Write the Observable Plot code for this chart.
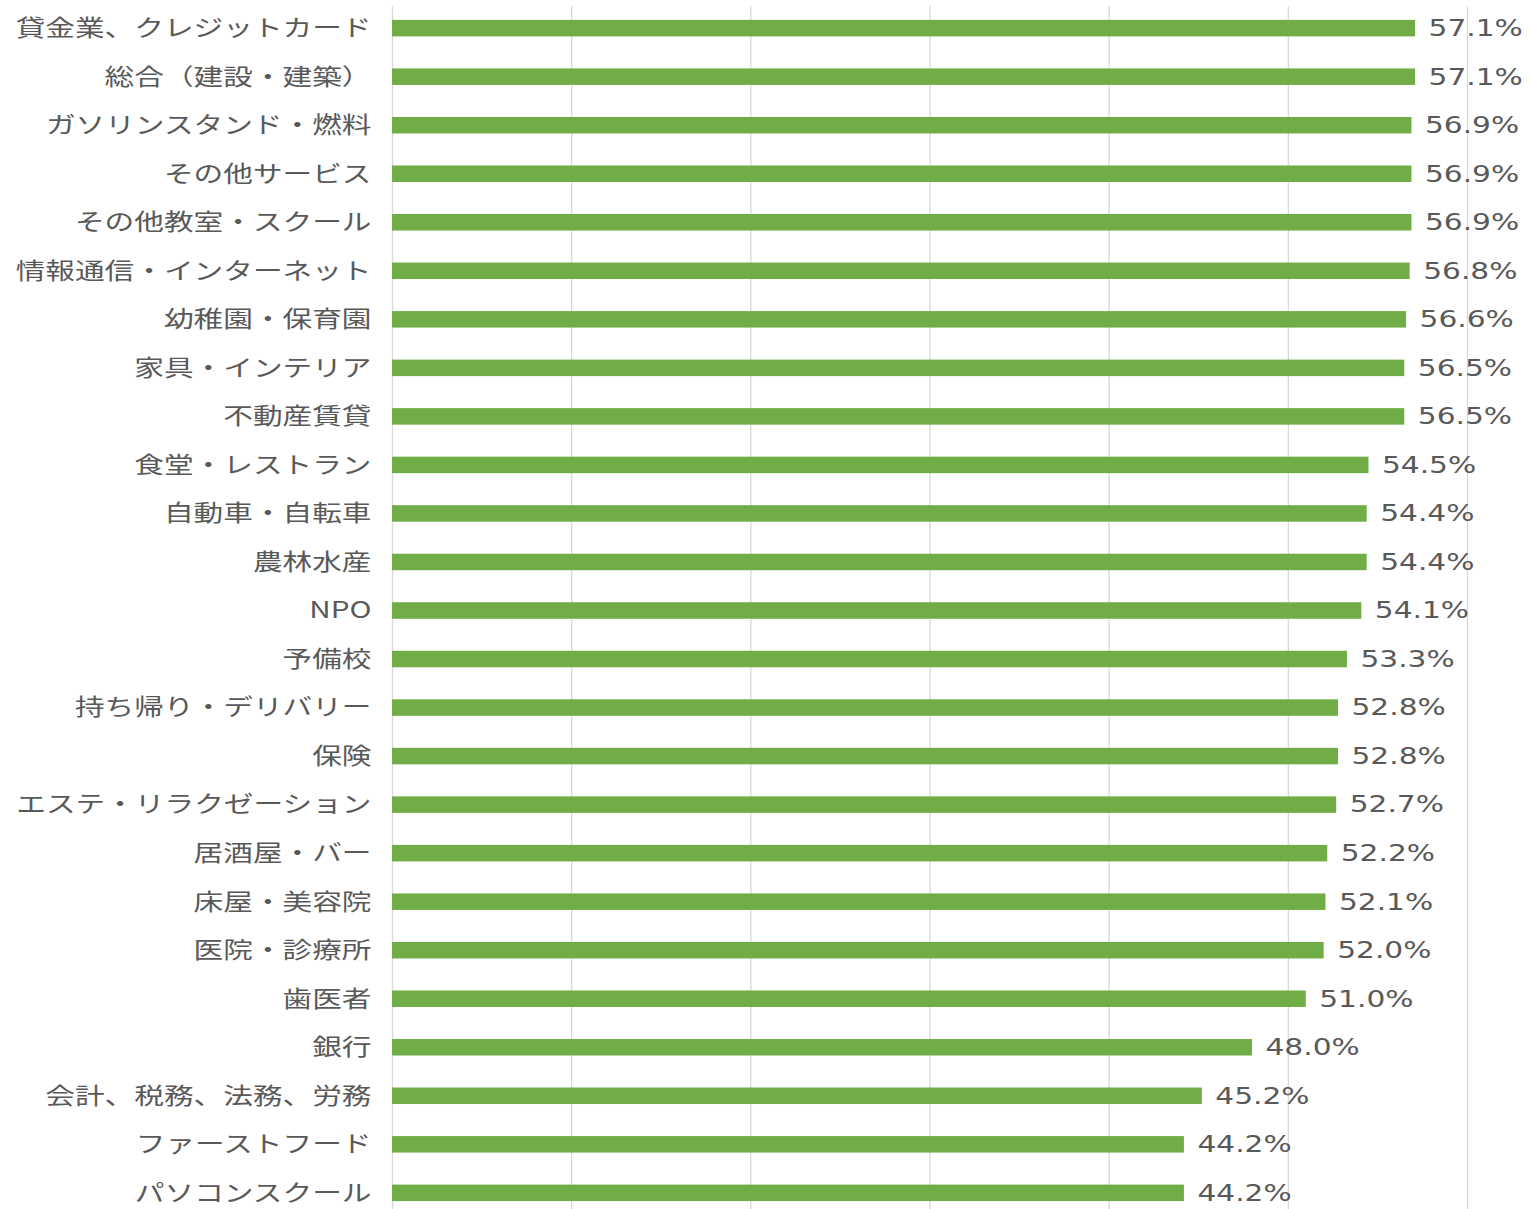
<!DOCTYPE html>
<html>
<head>
<meta charset="utf-8">
<script src="https://cdn.jsdelivr.net/npm/d3@7"></script>
<script src="https://cdn.jsdelivr.net/npm/@observablehq/plot@0.6"></script>
<style>
  html, body { margin: 0; padding: 0; background: #fff; }
  #chart { width: 1532px; height: 1209px; overflow: hidden; }
</style>
</head>
<body>
<div id="chart"></div>
<script>
const categories = [
  "貸金業、クレジットカード",
  "総合（建設・建築）",
  "ガソリンスタンド・燃料",
  "その他サービス",
  "その他教室・スクール",
  "情報通信・インターネット",
  "幼稚園・保育園",
  "家具・インテリア",
  "不動産賃貸",
  "食堂・レストラン",
  "自動車・自転車",
  "農林水産",
  "NPO",
  "予備校",
  "持ち帰り・デリバリー",
  "保険",
  "エステ・リラクゼーション",
  "居酒屋・バー",
  "床屋・美容院",
  "医院・診療所",
  "歯医者",
  "銀行",
  "会計、税務、法務、労務",
  "ファーストフード",
  "パソコンスクール"
];
const values = [57.1, 57.1, 56.9, 56.9, 56.9, 56.8, 56.6, 56.5, 56.5, 54.5, 54.4, 54.4, 54.1, 53.3, 52.8, 52.8, 52.7, 52.2, 52.1, 52.0, 51.0, 48.0, 45.2, 44.2, 44.2];
const gridTicks = [0, 10, 20, 30, 40, 50, 60];

const data = categories.map((c, i) => ({category: c, value: values[i]}));

const chart = Plot.plot({
  width: 1532,
  height: 1209,
  marginLeft: 392,
  marginRight: 65,
  marginTop: 6,
  marginBottom: 0,
  style: {background: "#fff", color: "#595959"},
  x: {domain: [0, 60], axis: null},
  y: {domain: categories, range: [0, 1221], round: false, paddingInner: 0.66, paddingOuter: 0.41, label: null},
  marks: [
    Plot.ruleX(gridTicks, {stroke: "#d9d9d9", strokeWidth: 1.3}),
    Plot.barX(data, {x: "value", y: "category", fill: "#70ad47"}),
    Plot.text(data, {
      x: "value", y: "category",
      text: d => d.value.toFixed(1) + "%",
      textAnchor: "start", dx: 13,
      fontSize: 23, fontFamily: "DejaVu Sans", fill: "#595959"
    }),
    Plot.axisY({
      tickSize: 0, tickPadding: 21, label: null,
      fontSize: 23, fontFamily: "Noto Sans CJK JP", fill: "#595959"
    })
  ]
});
document.getElementById("chart").appendChild(chart);

// widen glyphs horizontally (the reference text is horizontally stretched)
chart.querySelectorAll("text").forEach(t => {
  const tr = t.getAttribute("transform") || "";
  t.setAttribute("transform", `${tr} scale(1.29,1)`);
});
</script>
</body>
</html>
